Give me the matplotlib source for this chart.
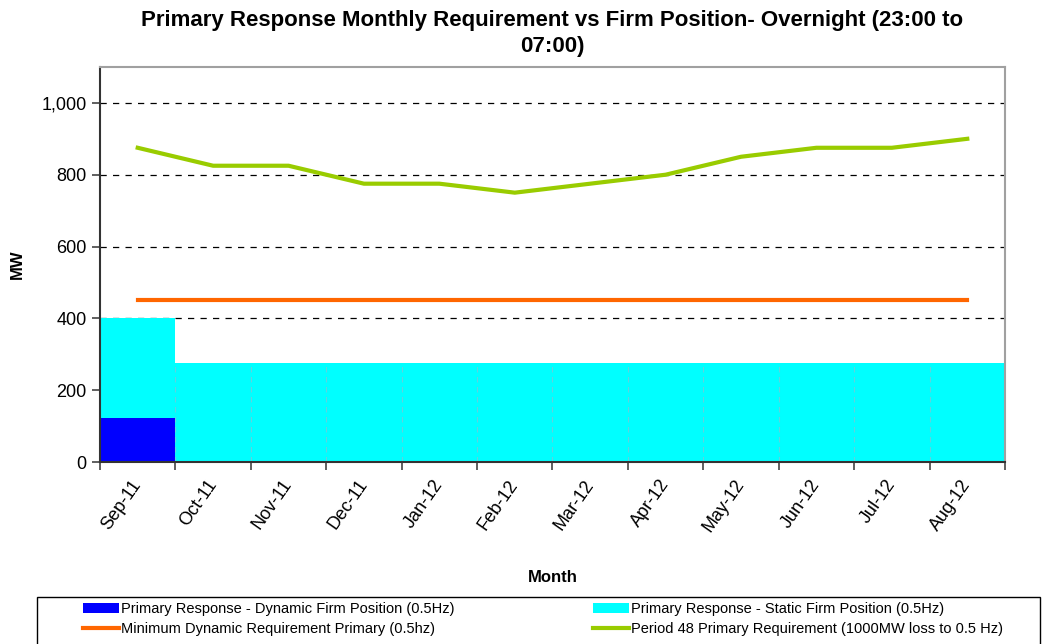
import numpy as np
import matplotlib.pyplot as plt
from matplotlib.ticker import FuncFormatter
from matplotlib.patches import Rectangle

months = ['Sep-11', 'Oct-11', 'Nov-11', 'Dec-11', 'Jan-12', 'Feb-12',
          'Mar-12', 'Apr-12', 'May-12', 'Jun-12', 'Jul-12', 'Aug-12']
dynamic_firm = [122, 0, 0, 0, 0, 0, 0, 0, 0, 0, 0, 0]
static_firm = [278, 275, 275, 275, 275, 275, 275, 275, 275, 275, 275, 275]
min_dynamic = [450] * 12
period48 = [875, 825, 825, 775, 775, 750, 775, 800, 850, 875, 875, 900]

plt.rcParams['font.family'] = ['Liberation Sans', 'DejaVu Sans']

fig = plt.figure(figsize=(10.45, 6.44), dpi=100)
ax = fig.add_axes([0.0957, 0.2826, 0.866, 0.6134])

x = np.arange(len(months))
b1 = ax.bar(x, dynamic_firm, width=1.0, color='#0000ff', linewidth=0,
            label='Primary Response - Dynamic Firm Position (0.5Hz)', zorder=2)
b2 = ax.bar(x, static_firm, width=1.0, bottom=dynamic_firm, color='#00ffff', linewidth=0,
            label='Primary Response - Static Firm Position (0.5Hz)', zorder=2)
l1, = ax.plot(x, min_dynamic, color='#ff6600', lw=3,
              label='Minimum Dynamic Requirement Primary (0.5hz)', zorder=3)
l2, = ax.plot(x, period48, color='#99cc00', lw=3,
              label='Period 48 Primary Requirement (1000MW loss to 0.5 Hz)', zorder=3)

# faint seams between the columns
for e in np.arange(1, len(months)) - 0.5:
    ax.plot([e, e], [0, static_firm[1]], color='#9fb8c8', lw=0.8, ls=(0, (5, 4)), alpha=0.6, zorder=2.5)

ax.set_xlim(-0.5, len(months) - 0.5)
ax.set_ylim(0, 1100)
ax.set_yticks([0, 200, 400, 600, 800, 1000])
ax.yaxis.set_major_formatter(FuncFormatter(lambda v, p: f'{int(v):,}'))
ax.yaxis.grid(True, color='black', ls=(0, (5, 5)), lw=0.9)
ax.set_axisbelow(True)

ax.set_xticks(x)
ax.set_xticklabels(months, rotation=55, ha='right', va='center', rotation_mode='anchor', fontsize=13)
ax.tick_params(axis='x', length=0, pad=14)
ax.set_xticks(np.arange(len(months) + 1) - 0.5, minor=True)
ax.tick_params(axis='x', which='minor', length=6, width=1.2, color='#444444')
ax.tick_params(axis='y', labelsize=13, length=6, width=1.2, color='#444444')

for s in ['top', 'right']:
    ax.spines[s].set_color('#a0a0a0')
    ax.spines[s].set_linewidth(1.5)
for s in ['left', 'bottom']:
    ax.spines[s].set_color('#333333')
    ax.spines[s].set_linewidth(1.5)

ax.set_ylabel('MW', fontsize=12, fontweight='bold')
ax.yaxis.set_label_coords(-0.083, 0.5)
ax.set_xlabel('Month', fontsize=12, fontweight='bold')
ax.xaxis.set_label_coords(0.5, -0.274)
ax.set_title('Primary Response Monthly Requirement vs Firm Position- Overnight (23:00 to\n07:00)',
             fontsize=16, fontweight='bold', pad=11, linespacing=1.3)

# legend box across the bottom
fig.patches.append(Rectangle((37 / 1045, -0.01), 1003 / 1045, 53 / 644, transform=fig.transFigure,
                             fill=False, edgecolor='black', lw=1.0))
leg_kw = dict(loc='center left', fontsize=10.5, frameon=False, handlelength=2.5,
              handletextpad=0.1, borderaxespad=0, labelspacing=0.45, borderpad=0)
leg1 = fig.legend(handles=[b1, l1], bbox_to_anchor=(83 / 1045, 1 - 619 / 644), **leg_kw)
leg2 = fig.legend(handles=[b2, l2], bbox_to_anchor=(593 / 1045, 1 - 619 / 644), **leg_kw)

fig.savefig('out.png', dpi=100)
